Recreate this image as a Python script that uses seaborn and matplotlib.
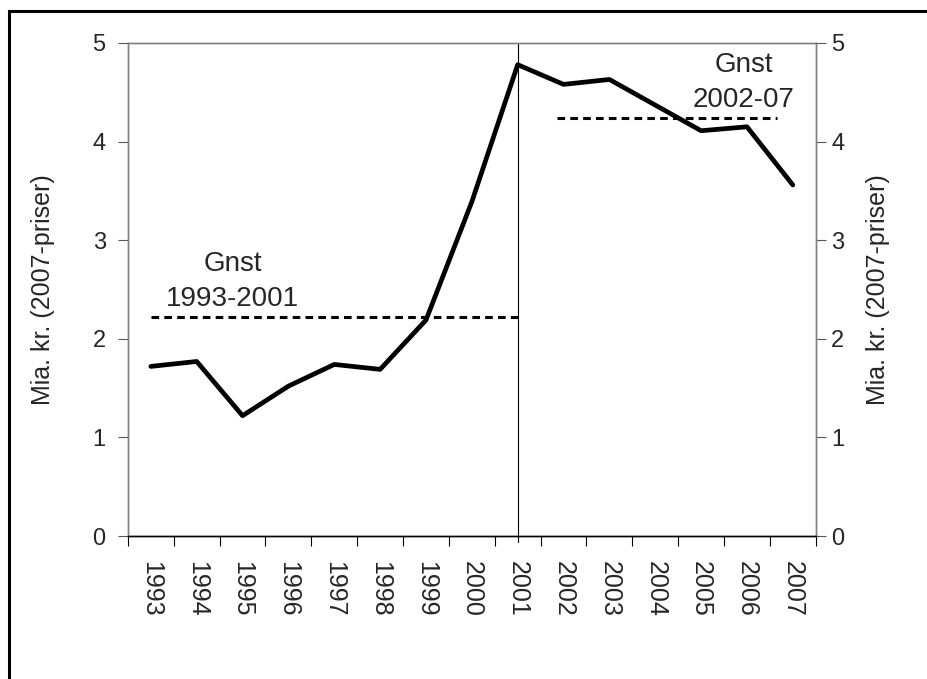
import matplotlib.pyplot as plt
import matplotlib.patches as patches
import pandas as pd
import seaborn as sns

# Data
years = ['1993', '1994', '1995', '1996', '1997', '1998', '1999', '2000',
         '2001', '2002', '2003', '2004', '2005', '2006', '2007']
values = [1.72, 1.77, 1.22, 1.52, 1.74, 1.69, 2.19, 3.39,
          4.78, 4.58, 4.63, 4.37, 4.11, 4.15, 3.56]
avg_labels = ['Gnst\n1993-2001', 'Gnst\n2002-07']
avg_values = [2.22, 4.24]

df = pd.DataFrame({'pos': range(len(years)), 'year': years, 'value': values})

sns.set_style('white')
plt.rcParams['font.family'] = ['Liberation Sans', 'DejaVu Sans']

fig = plt.figure(figsize=(9.27, 6.79), dpi=100)
ax = fig.add_axes([0.138, 0.2106, 0.742, 0.7261])

sns.lineplot(data=df, x='pos', y='value', ax=ax, color='black', linewidth=3.4)

# averages
ax.plot([0, 8], [avg_values[0]] * 2, color='black', lw=2.2, linestyle=(0, (2.5, 1.7)))
ax.plot([8.85, 13.65], [avg_values[1]] * 2, color='black', lw=2.2, linestyle=(0, (2.5, 1.7)))
ax.text(1.79, 2.27, avg_labels[0], ha='center', va='bottom', fontsize=20, linespacing=1.45)
ax.text(12.93, 4.29, avg_labels[1], ha='center', va='bottom', fontsize=20, linespacing=1.45)

# divider at 2001
ax.axvline(8, ymin=-0.012, ymax=1, color='black', lw=0.8, clip_on=False)

ax.set_xlim(-0.5, len(years) - 0.5)
ax.set_ylim(0, 5)
ax.set_yticks(range(6))
ax.set_xticks([i - 0.5 for i in range(len(years) + 1)])
ax.set_xticklabels([])
ax.set_xticks(range(len(years)), minor=True)
ax.set_xticklabels(years, minor=True, rotation=270, fontsize=18)
ax.tick_params(axis='x', which='major', direction='out', length=7, width=0.8, color='black', bottom=True)
ax.tick_params(axis='x', which='minor', length=0, pad=18)
ax.tick_params(axis='y', direction='out', length=7, width=0.8, color='#555555', left=True, labelsize=17, pad=9)
ax.set_xlabel('')
ax.set_ylabel('Mia. kr. (2007-priser)', fontsize=18, labelpad=27)

ax2 = ax.twinx()
ax2.set_ylim(0, 5)
ax2.set_yticks(range(6))
ax2.tick_params(axis='y', direction='out', length=7, width=0.8, color='#555555', right=True, labelsize=17, pad=4)
ax2.set_ylabel('Mia. kr. (2007-priser)', fontsize=18, labelpad=16, rotation=90)

for a in (ax, ax2):
    for side in ['left', 'right', 'top']:
        a.spines[side].set_color('#808080')
        a.spines[side].set_linewidth(1.0)
    a.spines['bottom'].set_color('black')
    a.spines['bottom'].set_linewidth(1.0)

# outer frame (only left and top edges visible)
frame = patches.Rectangle((9 / 927, -0.1), 1.2, 1.1 - 11 / 679, transform=fig.transFigure,
                          fill=False, edgecolor='black', linewidth=2.2)
fig.patches.append(frame)

fig.savefig('out.png', dpi=100)
